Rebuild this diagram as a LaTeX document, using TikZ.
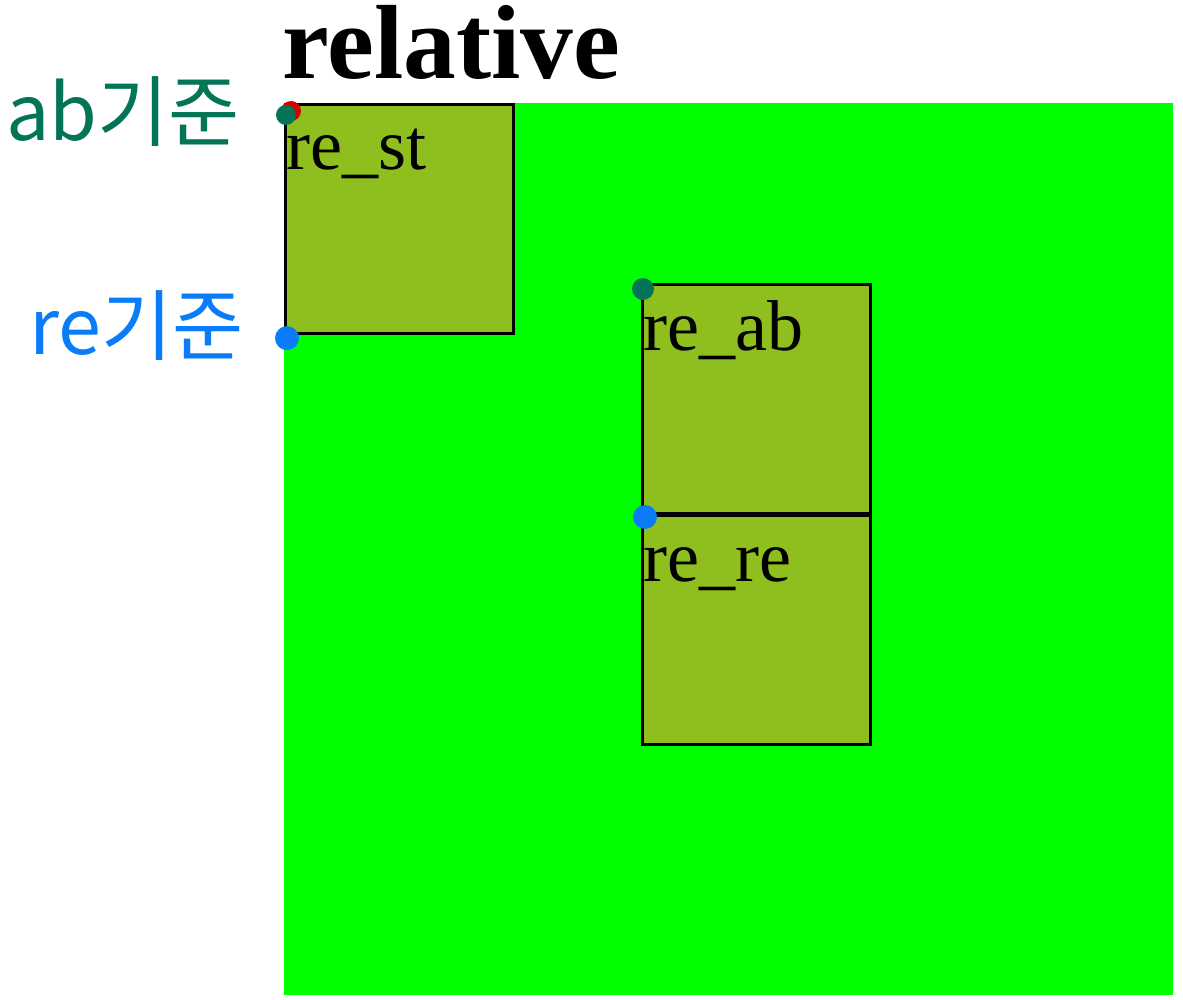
\documentclass[tikz,border=0pt]{standalone}
\usepackage{fontspec}
\setmainfont{Liberation Serif}
\newfontfamily\kor{Noto Sans CJK KR}
\usepackage{xcolor}
\definecolor{boxgreen}{HTML}{00FF00}
\definecolor{boxolive}{HTML}{8FBF1E}
\definecolor{penred}{HTML}{D40000}
\definecolor{pengreen}{HTML}{037556}
\definecolor{penblue}{HTML}{0A7CF8}

\begin{document}
\begin{tikzpicture}[x=0.02cm, y=-0.02cm,
    posbox/.style={draw=black, line width=1.8pt, fill=boxolive, inner sep=0pt,
                minimum width=4.56cm, minimum height=4.58cm, anchor=north west},
    lbl/.style={font=\fontsize{41}{41}\selectfont, inner sep=0pt, anchor=base west},
    note/.style={font=\kor\fontsize{44}{44}\selectfont, inner sep=0pt, anchor=east}]
  \useasboundingbox (0,0) rectangle (1183,1000);

  % container
  \fill[boxgreen] (284,103) rectangle (1173,995);
  \node[font=\fontsize{60}{60}\selectfont\bfseries, inner sep=0pt, anchor=base west]
    (title) at (282,79) {relative};

  % boxes
  \node[posbox] (re_st) at (284,103) {};
  \node[posbox] (re_ab) at (641,283) {};
  \node[posbox] (re_re) at (641,514) {};
  \node[lbl] (re_st-t) at ([shift={(2,67)}]re_st.north west) {re\_st};
  \node[lbl] (re_ab-t) at ([shift={(2,67)}]re_ab.north west) {re\_ab};
  \node[lbl] (re_re-t) at ([shift={(2,67)}]re_re.north west) {re\_re};

  % reference points
  \fill[penred] ([shift={(7,8)}]re_st.north west) circle (10);
  \fill[pengreen] ([shift={(2,12)}]re_st.north west) circle (10);
  \fill[pengreen] ([shift={(2,6)}]re_ab.north west) circle (11);
  \fill[penblue] ([shift={(3,3)}]re_st.south west) circle (12);
  \fill[penblue] ([shift={(4,3)}]re_re.north west) circle (12);

  \node[note, text=pengreen] (ab-note) at (240,112) {ab기준};
  \node[note, text=penblue] (re-note) at (244,326) {re기준};
\end{tikzpicture}
\end{document}
